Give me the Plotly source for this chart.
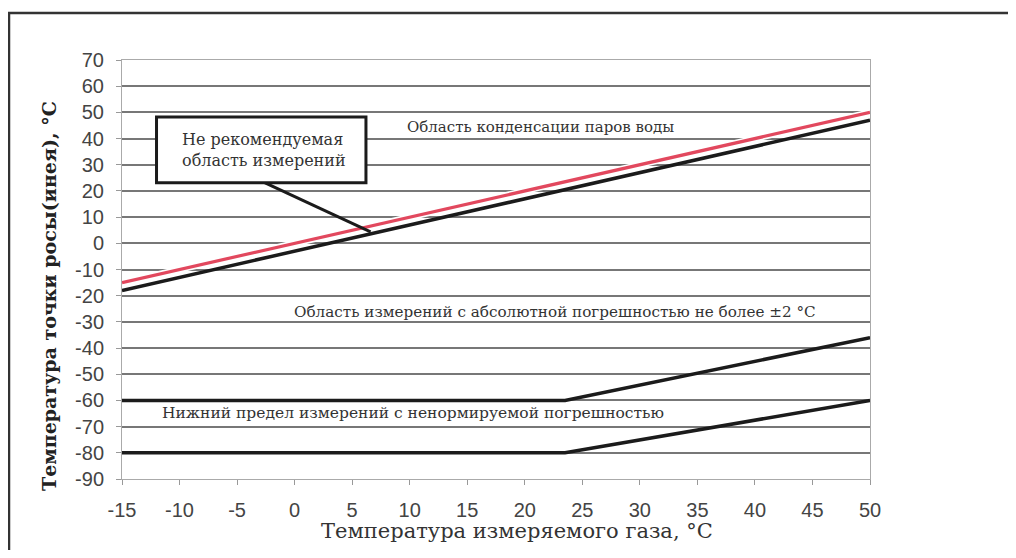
import plotly.graph_objects as go

# ---- data ----
x_diag = [-15, 50]
condensation_line = [-15, 50]        # red line (dew point = gas temperature)
recommended_upper = [-18, 47]        # black line just below the red one
x_lower = [-15, 23.5, 50]
limit_2deg = [-60, -60, -36]         # lower limit of +-2 C accuracy region
limit_lower = [-80, -80, -60]        # lower limit with non-normalised error

x_ticks = [-15, -10, -5, 0, 5, 10, 15, 20, 25, 30, 35, 40, 45, 50]
x_tick_text = ["-15", "-10", "-5", "0", "5", "10", "15", "20", "25", "30", "35", "40", "45", "50"]
y_ticks = [70, 60, 50, 40, 30, 20, 10, 0, -10, -20, -30, -40, -50, -60, -70, -80, -90]
y_tick_text = ["70", "60", "50", "40", "30", "20", "10", "0", "-10", "-20", "-30", "-40",
               "-50", "-60", "-70", "-80", "-90"]

y_title = "Температура точки росы(инея), °С"
x_title = "Температура измеряемого газа, °С"
label_condensation = "Область конденсации паров воды"
label_accuracy = "Область измерений с абсолютной погрешностью не более ±2 °С"
label_lower = "Нижний предел измерений с ненормируемой погрешностью"
label_box = "Не рекомендуемая<br>область измерений"

# page pixel geometry (body has an 8px margin)
OFF = 8
FW, FH = 1000, 542
L, R, T, B = 122, 870, 60, 479

def px(xp):
    return (xp - L) / (R - L)

def py(yp):
    return (B - yp) / (B - T)

fig = go.Figure()

fig.add_trace(go.Scatter(x=x_diag, y=condensation_line, mode="lines",
                         line=dict(color="white", width=6.5), hoverinfo="skip", showlegend=False))
fig.add_trace(go.Scatter(x=x_diag, y=recommended_upper, mode="lines",
                         line=dict(color="#1b1b1b", width=3.5), showlegend=False))
fig.add_trace(go.Scatter(x=x_diag, y=condensation_line, mode="lines",
                         line=dict(color="#e2485e", width=3.2), showlegend=False))
fig.add_trace(go.Scatter(x=x_lower, y=limit_2deg, mode="lines",
                         line=dict(color="#1b1b1b", width=3.5), showlegend=False))
fig.add_trace(go.Scatter(x=x_lower, y=limit_lower, mode="lines",
                         line=dict(color="#1b1b1b", width=3.5), showlegend=False))

serif = "DejaVu Serif, Liberation Serif, serif"
sans = "Liberation Sans, Arial, sans-serif"

annotations = [
    dict(text=label_condensation, x=21.4, y=44.4, xref="x", yref="y", showarrow=False,
         font=dict(family=serif, size=15, color="#333333"), xanchor="center", yanchor="middle"),
    dict(text=label_accuracy, x=22.6, y=-26.2, xref="x", yref="y", showarrow=False,
         font=dict(family=serif, size=15.2, color="#333333"), xanchor="center", yanchor="middle"),
    dict(text=label_lower, x=-11.7, y=-64.7, xref="x", yref="y", showarrow=False,
         font=dict(family=serif, size=15.5, color="#333333"), xanchor="left", yanchor="middle"),
    dict(text=label_box, x=-10, y=35.5, xref="x", yref="y", showarrow=False, align="left",
         font=dict(family=serif, size=16, color="#333333"), xanchor="left", yanchor="middle"),
    dict(text="<b>" + y_title + "</b>", x=px(49), y=py(296), xref="paper", yref="paper",
         showarrow=False, textangle=-90, xanchor="center", yanchor="middle",
         font=dict(family=serif, size=19, color="#222222")),
    dict(text=x_title, x=px(517), y=py(531), xref="paper", yref="paper",
         showarrow=False, xanchor="center", yanchor="middle",
         font=dict(family=serif, size=21, color="#333333")),
]

shapes = [
    # outer frame
    dict(type="rect", xref="paper", yref="paper",
         x0=px(9), x1=px(1040), y0=py(600), y1=py(13),
         line=dict(color="#333333", width=2.5), fillcolor="rgba(0,0,0,0)", layer="below"),
    # leader line
    dict(type="line", xref="x", yref="y", x0=-2.7, y0=23.4, x1=6.6, y1=4.4,
         line=dict(color="#1b1b1b", width=3)),
    # callout box
    dict(type="rect", xref="x", yref="y", x0=-12.0, x1=6.2, y0=23.1, y1=48.2,
         line=dict(color="#1b1b1b", width=3), fillcolor="white"),
]

fig.update_layout(
    width=FW, height=FH,
    margin=dict(l=L - OFF, r=OFF + FW - R, t=T - OFF, b=OFF + FH - B),
    paper_bgcolor="white", plot_bgcolor="white",
    showlegend=False,
    annotations=annotations,
    shapes=shapes,
)
fig.update_xaxes(range=[-15, 50], tickvals=x_ticks, ticktext=x_tick_text, ticks="outside", ticklen=5,
                 tickcolor="#999999", showgrid=False, zeroline=False, ticklabelstandoff=8,
                 showline=True, linecolor="#aaaaaa", linewidth=1, mirror=True,
                 tickfont=dict(family=sans, size=20, color="#444444"))
fig.update_yaxes(range=[-90, 70], tickvals=y_ticks, ticktext=y_tick_text, ticks="outside", ticklen=5,
                 tickcolor="#999999", showgrid=True, gridcolor="#777777", gridwidth=1.5,
                 zeroline=False, showline=True, linecolor="#aaaaaa", linewidth=1, mirror=True,
                 ticklabelstandoff=8,
                 tickfont=dict(family=sans, size=20, color="#444444"))

fig.write_html("out.html")
